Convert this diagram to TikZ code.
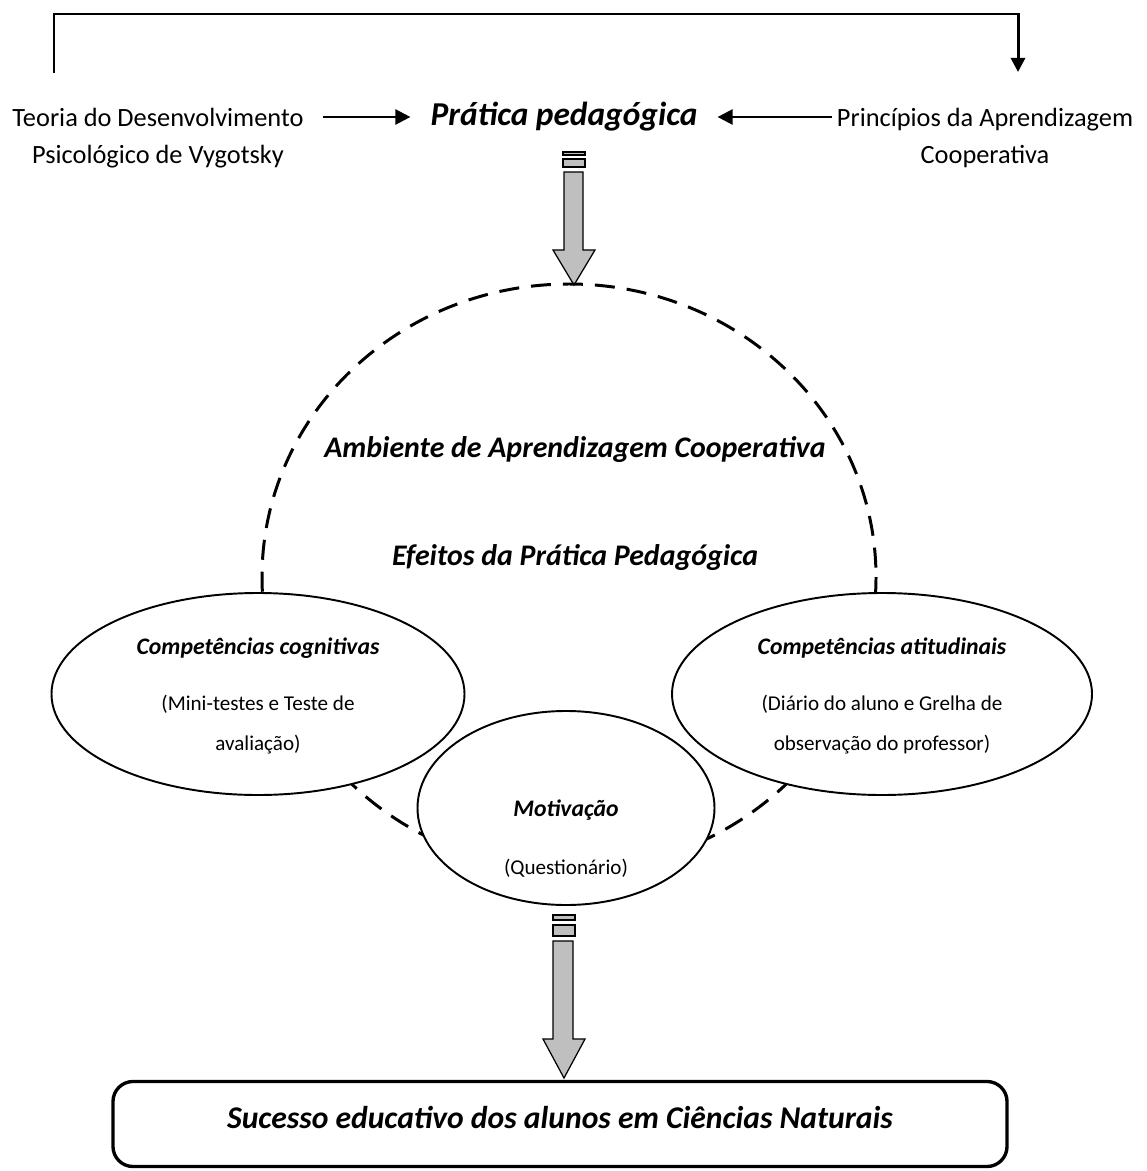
\documentclass[tikz,border=0pt]{standalone}
\usepackage{fontspec}
\setmainfont{Carlito}
\usetikzlibrary{calc}
\usetikzlibrary{shapes.geometric}
\usetikzlibrary{arrows.meta}
\definecolor{Pfeilgrau}{RGB}{191,191,191}

\begin{document}
\begin{tikzpicture}[x=0.2mm, y=-0.2mm,
  Pfeil/.style={line width=1.4pt, arrows = -{Triangle[length=8.5pt, width=8.5pt]}},
  Klammer/.style={line width=1.7pt, arrows = -{Triangle[length=8pt, width=8pt]}},
  Oval/.style={draw, ellipse, line width=1.1pt, fill=white, inner sep=0pt},
  Block/.style={draw, line width=0.7pt, fill=Pfeilgrau, line join=miter},
  Seite/.style={align=center, font=\fontsize{15}{21}\selectfont, inner sep=0pt},
  Titel/.style={font=\fontsize{13.5}{16}\selectfont\bfseries\itshape},
  Klein/.style={align=center, font=\fontsize{12}{22.8}\selectfont}]
\useasboundingbox (0,0) rectangle (1146,1171);

% Eingangsseite
\node[Seite] (theorie) at (158,138) {Teoria do Desenvolvimento\\Psicológico de Vygotsky};
\node[Seite] (prinzip) at (985,138) {Princípios da Aprendizagem\\Cooperativa};
\node[font=\fontsize{19}{22}\selectfont\bfseries\itshape] (praxis) at (564,117) {Prática pedagógica};
\draw[Pfeil] ($(theorie.east |- praxis.west) + (19,0)$) -- ($(praxis.west) + (-14,0)$);
\draw[Pfeil] ($(prinzip.west |- praxis.east) + (-5,0)$) -- ($(praxis.east) + (14,0)$);
\coordinate (klammerL) at (54,73);
\coordinate (klammerR) at (1018,72);
\draw[Klammer] (klammerL) -- ++(0,-59) -| (klammerR);

% Blockpfeil oben
\draw[Block] (563,152) rectangle (585,155);
\draw[Block] (563,159) rectangle (585,167);
\draw[Block] (564,172) -- (564,250) -- (553,250) -- (574,285) -- (595,250) -- (583,250) -- (583,172) -- cycle;

% Umgebung
\draw[line width=1.7pt, dash pattern=on 4mm off 2.4mm] (569,577) ellipse [x radius=307, y radius=293];
\node[font=\fontsize{17}{20}\selectfont\bfseries\itshape] (umgebung) at (575,450) {Ambiente de Aprendizagem Cooperativa};
\node[font=\fontsize{17}{20}\selectfont\bfseries\itshape] (effekte) at (575,558) {Efeitos da Prática Pedagógica};

% Kompetenzen
\node[Oval, minimum width=82.6mm, minimum height=40.4mm] (kog) at (258,694) {};
\node[Oval, minimum width=84mm, minimum height=40.4mm] (att) at (882,694) {};
\node[Oval, minimum width=59.4mm, minimum height=38.8mm] (motiv) at (566,808) {};
\node[Titel] (kogT) at ($(kog) + (0,-46)$) {Competências cognitivas};
\node[Klein] (kogK) at ($(kog) + (0,31)$) {(Mini-testes e Teste de\\avaliação)};
\node[Titel] (attT) at ($(att) + (0,-46)$) {Competências atitudinais};
\node[Klein] (attK) at ($(att) + (0,31)$) {(Diário do aluno e Grelha de\\observação do professor)};
\node[Titel] (motivT) at ($(motiv) + (0,2)$) {Motivação};
\node[Klein] (motivK) at ($(motiv) + (0,60)$) {(Questionário)};

% Blockpfeil unten
\draw[Block] (553,915) rectangle (575,920);
\draw[Block] (553,925) rectangle (575,936);
\draw[Block] (553,941) -- (553,1039) -- (543,1039) -- (564,1078) -- (585,1039) -- (573,1039) -- (573,941) -- cycle;

% Ergebnis
\node[draw, rounded corners=4mm, line width=1.9pt, minimum width=178.8mm, minimum height=17mm,
  text depth=8pt, font=\fontsize{18}{22}\selectfont\bfseries\itshape] (erfolg) at (560,1124) {Sucesso educativo dos alunos em Ciências Naturais};
\end{tikzpicture}
\end{document}
